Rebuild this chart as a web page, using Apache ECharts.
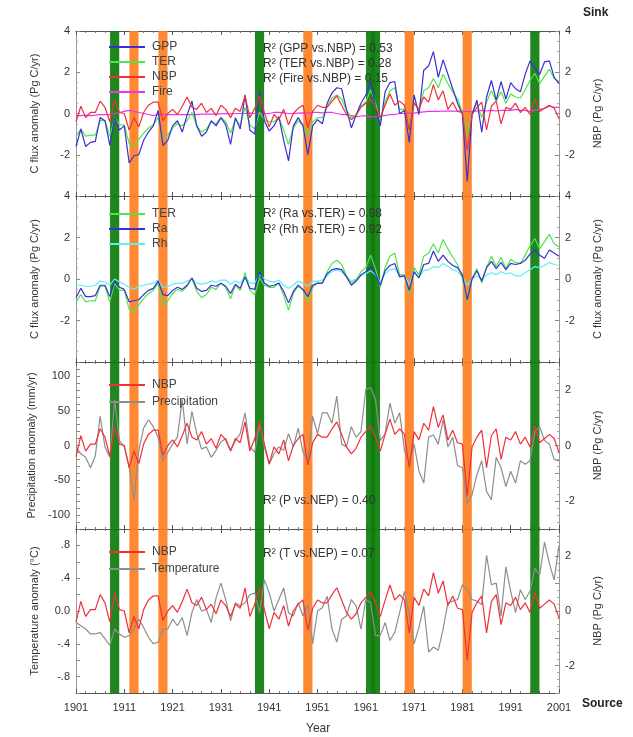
<!DOCTYPE html>
<html><head><meta charset="utf-8">
<script src="https://cdn.jsdelivr.net/npm/echarts@6/dist/echarts.min.js"></script>
<style>html,body{margin:0;padding:0;background:#fff}#c{width:633px;height:737px}</style>
</head><body><div id="c"></div>
<script>
// ---------- data ----------
const firstYear = 1901, lastYear = 2001;
const xTickLabels = [1901, 1911, 1921, 1931, 1941, 1951, 1961, 1971, 1981, 1991, 2001];

const gpp = [-1.6,-0.75,-1.6,-1.4,-1.35,-0.2,-0.35,-1.55,-0.2,-0.8,
 -0.6,-2.4,-2.05,-2.0,-1.3,-0.9,-0.6,0.15,-1.55,-1.3,
 -0.6,-0.35,-0.9,-0.07,0.6,-0.6,-1.1,-0.9,-0.35,-0.6,
 -0.2,-0.55,-1.5,-0.2,-0.75,0.9,-0.8,-1.0,1.05,-0.35,
 -0.85,-0.6,-0.15,-1.3,-2.3,-0.6,-0.2,-0.6,-2.0,-0.6,
 -0.3,-0.5,0.5,1.0,1.25,1.2,0.2,-0.7,-0.07,0.5,
 0.9,1.55,0.3,-0.6,1.05,1.5,1.55,0.0,0.15,-1.4,
 0.9,-0.05,2.1,2.3,3.0,1.75,2.6,1.9,1.2,0.5,
 -0.05,-3.3,-0.05,0.65,-0.9,0.8,1.6,0.65,1.55,0.7,
 1.5,1.2,1.05,1.9,2.55,2.2,1.9,2.5,2.55,1.75,1.45];

const ter = [-1.1,-0.75,-1.1,-1.05,-1.05,-0.35,-0.35,-1.1,-0.2,-0.55,
 -0.55,-1.45,-1.6,-1.25,-0.95,-0.7,-0.55,-0.2,-1.25,-1.05,
 -0.7,-0.5,-0.6,-0.35,0.05,-0.6,-0.9,-0.75,-0.4,-0.5,
 -0.2,-0.4,-0.95,-0.3,-0.55,0.3,-0.55,-0.75,0.05,-0.3,
 -0.4,-0.4,-0.2,-0.8,-1.5,-0.7,-0.35,-0.55,-1.1,-0.4,
 -0.2,-0.2,0.35,0.75,0.9,0.7,0.15,-0.2,-0.05,0.35,
 0.55,1.15,0.5,-0.4,0.55,1.1,1.25,0.2,0.2,-0.7,
 0.55,0.2,1.1,1.25,1.7,1.25,1.9,1.45,1.05,0.7,
 0.05,-1.1,0.05,0.5,-0.2,0.55,1.1,0.6,1.05,0.5,
 0.95,0.8,0.75,1.15,1.6,1.95,1.45,1.8,2.15,1.7,1.55];

const nbp = [-0.4,0.35,-0.2,0.05,0.05,0.6,0.3,-0.4,0.65,0.05,
 0.0,-0.8,-0.2,-0.65,0.05,0.4,0.55,0.55,-0.35,0.0,
 0.2,-0.05,0.35,0.8,0.3,0.2,0.5,0.05,0.25,-0.1,
 0.4,0.2,-0.2,0.25,0.1,0.85,-0.2,0.25,0.85,0.05,
 -0.65,-0.05,-0.3,0.2,-0.55,0.0,0.25,0.4,-0.7,0.1,
 0.4,0.3,0.3,0.6,0.85,0.4,-0.05,-0.3,-0.1,0.3,
 0.5,0.7,0.3,-0.2,0.4,0.95,0.4,0.6,0.4,-0.8,
 0.5,0.2,0.8,0.55,1.4,0.65,1.1,0.2,0.55,0.1,
 0.05,-1.8,-0.05,0.3,0.55,-0.8,0.35,0.6,-0.5,0.3,
 0.2,0.5,0.05,0.3,-0.05,0.7,0.1,0.25,0.4,0.25,-0.25];

const fire = [-0.1,-0.1,-0.08,-0.1,-0.08,-0.05,-0.05,-0.05,0.0,0.05,
 0.1,0.15,0.1,0.05,0.0,-0.05,-0.1,-0.05,-0.05,-0.05,
 -0.05,-0.05,-0.05,-0.05,-0.05,-0.05,-0.03,-0.03,-0.03,-0.02,
 -0.02,0.0,-0.02,0.0,0.0,0.0,0.02,0.0,0.02,0.0,
 0.0,0.05,0.05,0.03,0.0,0.0,0.02,0.03,0.02,0.05,
 0.05,0.03,0.05,0.05,0.0,-0.05,-0.05,-0.1,-0.15,-0.12,
 -0.1,-0.18,-0.15,-0.1,-0.1,-0.05,-0.05,0.0,0.0,0.02,
 0.02,0.05,0.08,0.1,0.1,0.1,0.12,0.12,0.12,0.12,
 0.1,0.1,0.08,0.12,0.15,0.12,0.15,0.12,0.15,0.15,
 0.15,0.2,0.15,0.15,0.1,0.15,0.2,0.25,0.35,0.3,0.3];

const ra = [-0.9,-0.45,-0.85,-0.85,-0.8,-0.3,-0.3,-0.85,-0.1,-0.4,
 -0.5,-1.1,-1.05,-1.0,-0.75,-0.55,-0.45,-0.1,-0.75,-0.8,
 -0.55,-0.4,-0.5,-0.3,0.05,-0.45,-0.6,-0.55,-0.3,-0.35,
 -0.2,-0.35,-0.7,-0.25,-0.45,0.1,-0.45,-0.5,0.35,-0.2,
 -0.35,-0.3,-0.2,-0.6,-1.15,-0.6,-0.3,-0.5,-0.85,-0.3,
 -0.2,-0.2,0.25,0.45,0.5,0.45,0.1,-0.3,-0.1,0.2,
 0.35,0.6,0.25,-0.3,0.4,0.65,0.75,0.1,0.15,-0.55,
 0.35,0.05,0.7,0.75,1.35,0.85,1.15,0.85,0.65,0.55,
 0.2,-1.0,0.0,0.4,-0.1,0.55,0.85,0.5,0.8,0.45,
 0.75,0.7,0.75,0.9,1.2,1.4,1.15,1.0,1.4,1.25,1.1];

const rh = [-0.3,-0.3,-0.35,-0.35,-0.3,-0.1,-0.15,-0.3,0.0,-0.15,
 -0.25,-0.4,-0.5,-0.35,-0.3,-0.25,-0.2,-0.05,-0.4,-0.35,
 -0.25,-0.2,-0.2,-0.1,0.0,-0.2,-0.25,-0.2,-0.1,-0.15,
 -0.05,-0.05,-0.25,-0.1,-0.2,0.1,-0.2,-0.2,0.2,0.0,
 -0.1,-0.15,-0.05,-0.3,-0.45,-0.3,-0.1,-0.2,-0.35,-0.1,
 -0.1,-0.05,0.15,0.35,0.45,0.35,0.1,-0.1,0.0,0.15,
 0.25,0.4,0.2,-0.15,0.25,0.45,0.5,0.15,0.15,-0.25,
 0.25,0.1,0.4,0.45,0.6,0.55,0.75,0.6,0.45,0.35,
 0.1,-0.3,0.0,0.15,0.0,0.2,0.3,0.2,0.35,0.25,
 0.3,0.15,0.15,0.3,0.45,0.6,0.55,0.65,0.8,0.7,0.65];

const precip = [-2,-12,-17,-32,-15,42,-2,-17,66,7,
 -2,-30,-78,-7,25,37,27,12,-22,-10,
 2,12,66,2,49,17,-5,-2,-17,-7,
 5,10,-7,7,17,47,-2,-10,32,-2,
 -27,-12,-2,-7,17,-2,25,-10,-22,42,
 17,47,47,32,71,2,-2,27,12,20,
 81,83,66,7,17,61,32,47,-7,-27,
 2,-37,-54,12,15,2,37,-2,12,-29,
 -32,-83,-71,-42,-22,-66,-78,-17,-32,-59,
 -37,-54,-22,-27,-22,20,27,7,2,-20,-22];

const temp = [-0.14,-0.18,-0.22,-0.28,-0.28,-0.26,-0.34,-0.42,-0.22,-0.28,
 -0.32,-0.3,-0.22,-0.1,-0.2,-0.32,-0.4,-0.38,-0.22,-0.22,
 -0.1,-0.18,-0.08,-0.3,-0.02,0.14,0.0,0.02,-0.14,0.16,
 0.34,0.14,-0.12,0.1,0.06,0.1,0.2,0.22,-0.02,0.38,
 0.22,0.0,0.14,0.28,-0.02,-0.06,0.1,-0.06,0.08,-0.4,
 0.0,0.04,0.18,-0.22,-0.38,-0.1,-0.06,0.14,0.06,-0.22,
 0.14,0.1,-0.3,-0.3,-0.14,-0.36,-0.26,-0.02,0.24,-0.04,
 -0.4,-0.2,0.06,-0.5,-0.44,-0.48,-0.22,0.1,0.12,0.14,
 0.32,0.26,0.14,0.12,0.08,0.68,0.32,0.34,-0.06,0.54,
 0.24,-0.02,0.26,0.14,0.24,0.52,0.44,0.84,0.58,0.38,0.8];

const greenYears = [1909, 1939, 1962, 1963, 1996];
const orangeYears = [1913, 1919, 1949, 1970, 1982];

const stats1 = ['R² (GPP vs.NBP) = 0.53', 'R² (TER vs.NBP) = 0.28', 'R² (Fire vs.NBP) = 0.15'];
const stats2 = ['R² (Ra vs.TER) = 0.98', 'R² (Rh vs.TER) = 0.92'];
const stats3 = ['R² (P vs.NEP) = 0.40'];
const stats4 = ['R² (T vs.NEP) = 0.07'];

// ---------- chart ----------
const years = gpp.map((_, i) => firstYear + i);
const pair = arr => arr.map((v, i) => [years[i], v]);
const FONT = '"Liberation Sans", Arial, sans-serif';
const C = { gpp:'#3a2fd6', ter:'#4de64d', nbp:'#f0303a', fire:'#ee33ee', ra:'#3a2fd6', rh:'#5ef0f0', gray:'#8e8e8e', green:'#0d7d0d', orange:'#ff7f22' };

const gridBox = [[31,165],[196,166],[362,167],[529,164]];
const grid = gridBox.map(([t,h]) => ({left:76, right:74, top:t, height:h, show:false}));

const xAxis = [];
gridBox.forEach((_, i) => {
  ['bottom','top'].forEach(pos => {
    xAxis.push({
      type:'value', gridIndex:i, position:pos, min:firstYear, max:lastYear, interval:10,
      axisLine:{show:true, onZero:false, lineStyle:{color:'#555', width:1}},
      axisTick:{show:true, inside:true, length:4, lineStyle:{color:'#555'}},
      minorTick:{show:true, splitNumber:5, length:2, lineStyle:{color:'#777'}},
      splitLine:{show:false},
      axisLabel:{show: i===3 && pos==='bottom', margin:9, fontFamily:FONT, fontSize:11, color:'#333',
        formatter: v => xTickLabels.includes(Math.round(v)) ? String(Math.round(v)) : ''}
    });
  });
});

function yax(i, pos, min, max, interval, fmt, name, gap, minorSplit) {
  return {
    type:'value', gridIndex:i, position:pos, min, max, interval,
    name, nameLocation:'middle', nameGap:gap, nameRotate: 90,
    nameTextStyle:{fontFamily:FONT, fontSize:11, color:'#333'},
    axisLine:{show:true, onZero:false, lineStyle:{color:'#999'}},
    axisTick:{show:true, inside:true, length:4, lineStyle:{color:'#888'}},
    minorTick:{show: !!minorSplit, splitNumber: minorSplit || 5, length:2, lineStyle:{color:'#aaa'}},
    splitLine:{show:false},
    axisLabel:{fontFamily:FONT, fontSize:11, color:'#333', margin:6, formatter:fmt}
  };
}
const fmtC = v => (v === -4 ? '' : String(v));
const fmtNbp3 = v => (Math.round(v) % 2 === 0 ? String(Math.round(v)) : '');
const fmtP = v => (Math.round(v) % 50 === 0 ? String(Math.round(v)) : '');
const fmtT = v => { const r = Math.round(v*10); if (r===0) return '0.0'; return (r % 4 === 0 && Math.abs(r) < 10) ? (r<0?'-':'') + '.' + Math.abs(r) : ''; };

const yAxis = [
  yax(0,'left',-4,4,2,fmtC,'C flux anomaly (Pg C/yr)',36,4),
  yax(0,'right',-4,4,2,fmtC,'NBP (Pg C/yr)',33,4),
  yax(1,'left',-4,4,2,fmtC,'C flux anomaly (Pg C/yr)',36,4),
  yax(1,'right',-4,4,2,fmtC,'C flux anomaly (Pg C/yr)',33,4),
  yax(2,'left',-120,120,10,fmtP,'Precipitation anomaly (mm/yr)',36,0),
  yax(2,'right',-3,3,1,fmtNbp3,'NBP (Pg C/yr)',33,4),
  yax(3,'left',-1,1,0.2,fmtT,'Temperature anomaly (°C)',36,0),
  yax(3,'right',-3,3,1,fmtNbp3,'NBP (Pg C/yr)',33,4)
];

function line(name, data, color, xi, yi, z) {
  return {type:'line', name, data:pair(data), xAxisIndex:xi, yAxisIndex:yi, symbol:'none',
    lineStyle:{color, width:1.2}, itemStyle:{color}, z: z||2, animation:false, silent:true};
}
function bands(xi, yi) {
  const mk = (list, color) => list.map(y => [{xAxis: y - 0.95, itemStyle:{color}}, {xAxis: y + 0.95}]);
  return {type:'line', data:[], xAxisIndex:xi, yAxisIndex:yi, z:5, silent:true, animation:false,
    markArea:{silent:true, itemStyle:{opacity:0.92}, data: mk(greenYears, C.green).concat(mk(orangeYears, C.orange))}};
}

const series = [
  line('Fire', fire, C.fire, 0, 0),
  line('TER', ter, C.ter, 0, 0),
  line('GPP', gpp, C.gpp, 0, 0),
  line('NBP', nbp, C.nbp, 0, 1, 3),
  bands(0, 0),
  line('Rh', rh, C.rh, 2, 2),
  line('TER', ter, C.ter, 2, 2),
  line('Ra', ra, C.ra, 2, 2),
  bands(2, 2),
  line('Precipitation', precip, C.gray, 4, 4),
  line('NBP', nbp, C.nbp, 4, 5, 3),
  bands(4, 4),
  line('Temperature', temp, C.gray, 6, 6),
  line('NBP', nbp, C.nbp, 6, 7, 3),
  bands(6, 6)
];

function lg(names, top, gap) {
  return {orient:'vertical', left:104, top, itemWidth:36, itemHeight:2, itemGap:gap, icon:'rect', z:20,
    data:names, selectedMode:false, textStyle:{fontFamily:FONT, fontSize:12, color:'#444', lineHeight:14, padding:[0,0,0,2]}};
}
const legend = [
  lg(['GPP','TER','NBP','Fire'], 35, 1),
  lg(['TER','Ra','Rh'], 202, 1),
  lg(['NBP','Precipitation'], 373, 3),
  lg(['NBP','Temperature'], 540, 3)
];

function texts(list, x, y0, step) {
  return list.map((t, k) => ({type:'text', left:x, top:y0 + k*step, z:100, style:{text:t, font:'12px ' + FONT, fill:'#333'}}));
}
const graphic = [].concat(
  texts(stats1, 263, 43, 15),
  texts(stats2, 263, 208, 15.5),
  texts(stats3, 263, 495, 15),
  texts(stats4, 263, 548, 15),
  [{type:'text', left:583, top:7, z:100, style:{text:'Sink', font:'bold 12px ' + FONT, fill:'#222'}},
   {type:'text', left:582, top:698, z:100, style:{text:'Source', font:'bold 12px ' + FONT, fill:'#222'}},
   {type:'text', left:306, top:723, z:100, style:{text:'Year', font:'12px ' + FONT, fill:'#333'}}]
);

const chart = echarts.init(document.getElementById('c'), null, {renderer:'canvas'});
chart.setOption({animation:false, backgroundColor:'#fff', grid, xAxis, yAxis, series, legend, graphic});
</script></body></html>
